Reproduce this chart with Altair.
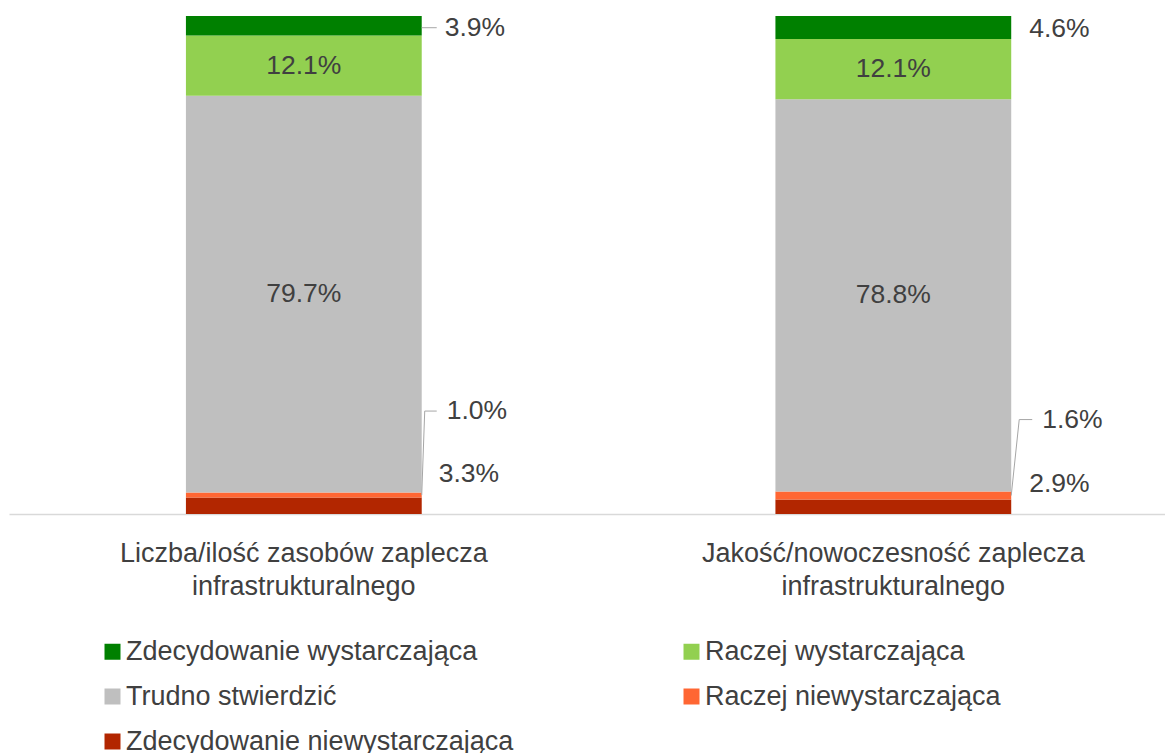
import altair as alt
import pandas as pd

# ---- data ----
categories = [
    "Liczba/ilość zasobów zaplecza\ninfrastrukturalnego",
    "Jakość/nowoczesność zaplecza\ninfrastrukturalnego",
]
# bottom -> top stacking order
series = [
    "Zdecydowanie niewystarczająca",
    "Raczej niewystarczająca",
    "Trudno stwierdzić",
    "Raczej wystarczająca",
    "Zdecydowanie wystarczająca",
]
values_cat1 = [3.3, 1.0, 79.7, 12.1, 3.9]
values_cat2 = [2.9, 1.6, 78.8, 12.1, 4.6]

legend_order = [
    "Zdecydowanie wystarczająca",
    "Raczej wystarczająca",
    "Trudno stwierdzić",
    "Raczej niewystarczająca",
    "Zdecydowanie niewystarczająca",
]
colors = {
    "Zdecydowanie wystarczająca": "#008000",
    "Raczej wystarczająca": "#92D050",
    "Trudno stwierdzić": "#BFBFBF",
    "Raczej niewystarczająca": "#FF6633",
    "Zdecydowanie niewystarczająca": "#B22600",
}

rows = []
for ci, (cat, vals) in enumerate(zip(categories, [values_cat1, values_cat2])):
    for si, (s, v) in enumerate(zip(series, vals)):
        rows.append({"category": cat, "ci": ci, "series": s, "order": si, "value": v})
df = pd.DataFrame(rows)

FONT = "Liberation Sans"
FS = 27
FS_LBL = 26.5
TXT = "#404040"
LEAD = "#A6A6A6"

# callout styles for the small segments: (cat index, series) -> dx, dy, leader
callouts = {
    (0, "Zdecydowanie wystarczająca"): dict(dx=23, dy=2, slant=None, h=(0, 15)),
    (0, "Raczej niewystarczająca"): dict(dx=25, dy=-84, slant=(0, 3), h=(3, 15)),
    (0, "Zdecydowanie niewystarczająca"): dict(dx=17, dy=-32, slant=None, h=None),
    (1, "Zdecydowanie wystarczająca"): dict(dx=18, dy=2, slant=None, h=None),
    (1, "Raczej niewystarczająca"): dict(dx=31, dy=-76, slant=(0, 8), h=(8, 21)),
    (1, "Zdecydowanie niewystarczająca"): dict(dx=18, dy=-23, slant=None, h=None),
}

xscale = alt.Scale(domain=categories, paddingInner=0.6, paddingOuter=0.2805,
                   align=0.535, round=False)
yscale = alt.Scale(domain=[0, 100])

base = alt.Chart(df).transform_stack(
    stack="value", groupby=["category"], as_=["y0", "y1"],
    sort=[alt.SortField("order", order="ascending")],
).transform_calculate(
    mid="(datum.y0 + datum.y1) / 2",
    label="format(datum.value, '.1f') + '%'",
)

bars = base.mark_bar(strokeWidth=0).encode(
    x=alt.X("category:N", scale=xscale, sort=categories,
            axis=alt.Axis(title=None, labelExpr="split(datum.label, '\\n')",
                          labelFont=FONT, labelFontSize=FS, labelColor=TXT,
                          labelLineHeight=33, labelPadding=26, labelAngle=0,
                          ticks=False, domainColor="#D9D9D9", domainWidth=1.5,
                          labelLimit=600)),
    y=alt.Y("y0:Q", scale=yscale, axis=None),
    y2="y1:Q",
    color=alt.Color("series:N", scale=alt.Scale(domain=legend_order,
                    range=[colors[s] for s in legend_order]),
                    legend=alt.Legend(title=None, orient="none", legendX=90, legendY=622,
                                      columns=2, direction="horizontal",
                                      columnPadding=164, rowPadding=17,
                                      symbolType="square", symbolSize=256,
                                      symbolStrokeWidth=0, labelFont=FONT,
                                      labelFontSize=FS, labelColor=TXT,
                                      labelOffset=0, labelLimit=600, padding=0)),
)

inside = base.transform_filter(
    alt.FieldOneOfPredicate(field="series", oneOf=["Trudno stwierdzić", "Raczej wystarczająca"])
).mark_text(font=FONT, fontSize=FS_LBL, color=TXT, baseline="middle").encode(
    x=alt.X("category:N", scale=xscale, sort=categories),
    y=alt.Y("mid:Q", scale=yscale),
    text="label:N",
)

layers = [bars, inside]
for (ci, s), st in callouts.items():
    sub = base.transform_filter(
        (alt.datum.ci == ci) & (alt.datum.series == s)
    )
    layers.append(sub.mark_text(font=FONT, fontSize=FS_LBL, color=TXT, baseline="middle",
                                align="left", dx=st["dx"], dy=st["dy"]).encode(
        x=alt.X("category:N", scale=xscale, sort=categories, bandPosition=1),
        y=alt.Y("mid:Q", scale=yscale),
        text="label:N",
    ))
    if st["slant"] is not None:
        layers.append(sub.mark_rule(color=LEAD, strokeWidth=1,
                                    xOffset=st["slant"][0], x2Offset=st["slant"][1],
                                    yOffset=0, y2Offset=st["dy"]).encode(
            x=alt.X("category:N", scale=xscale, sort=categories, bandPosition=1),
            x2=alt.X2("category:N", bandPosition=1),
            y=alt.Y("mid:Q", scale=yscale),
            y2="mid:Q",
        ))
    if st["h"] is not None:
        layers.append(sub.mark_rule(color=LEAD, strokeWidth=1,
                                    xOffset=st["h"][0], x2Offset=st["h"][1],
                                    yOffset=st["dy"], y2Offset=st["dy"]).encode(
            x=alt.X("category:N", scale=xscale, sort=categories, bandPosition=1),
            x2=alt.X2("category:N", bandPosition=1),
            y=alt.Y("mid:Q", scale=yscale),
            y2="mid:Q",
        ))

chart = alt.layer(*layers).properties(
    width=1156, height=498,
    autosize=alt.AutoSizeParams(type="none"),
    padding={"left": 1, "top": 8, "right": 0, "bottom": 241},
    background="white",
).configure_view(strokeWidth=0, stroke="transparent")

chart.save("out.html", embed_options={"renderer": "svg", "actions": False})
